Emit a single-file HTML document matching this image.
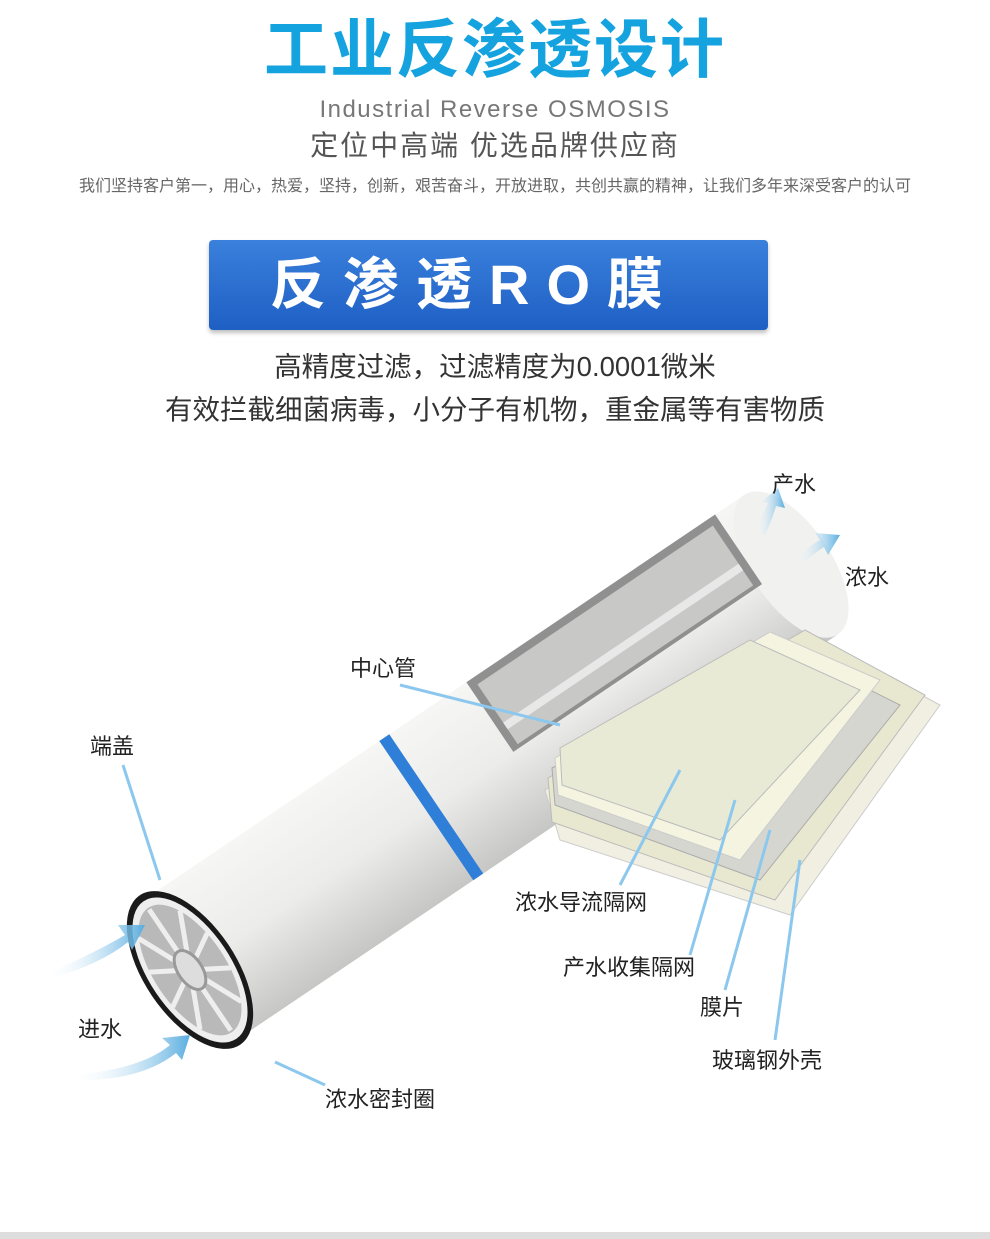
<!DOCTYPE html>
<html><head><meta charset="utf-8"><style>
body{margin:0;width:990px;height:1239px;background:#fff;overflow:hidden;position:relative;font-family:"Liberation Sans","Noto Sans CJK SC",sans-serif}
.t{position:absolute;left:0;width:990px;text-align:center;white-space:nowrap}
.l{position:absolute;font-size:22px;color:#222;white-space:nowrap}
</style></head><body>
<div class="t" style="top:10px;font-size:64px;font-weight:bold;color:#15a3e0;letter-spacing:2px;line-height:80px">工业反渗透设计</div>
<div class="t" style="top:95px;font-size:24px;color:#777;letter-spacing:1.5px;line-height:30px">Industrial Reverse OSMOSIS</div>
<div class="t" style="top:128px;font-size:28px;color:#555;letter-spacing:2px;line-height:36px">定位中高端 优选品牌供应商</div>
<div class="t" style="top:176px;font-size:16px;color:#666;line-height:22px">我们坚持客户第一，用心，热爱，坚持，创新，艰苦奋斗，开放进取，共创共赢的精神，让我们多年来深受客户的认可</div>
<div style="position:absolute;left:209px;top:240px;width:559px;height:90px;background:linear-gradient(#3a80dc,#1e5fc4);border-radius:4px;box-shadow:0 3px 4px rgba(0,0,0,.25)"></div>
<div class="t" style="top:250px;font-size:56px;font-weight:bold;color:#fff;letter-spacing:17px;line-height:70px;left:-20px">反渗透RO膜</div>
<div class="t" style="top:349px;font-size:27.5px;color:#333;line-height:36px">高精度过滤，过滤精度为0.0001微米</div>
<div class="t" style="top:392px;font-size:27.5px;color:#333;line-height:36px">有效拦截细菌病毒，小分子有机物，重金属等有害物质</div>

<svg style="position:absolute;left:0;top:0" width="990" height="1239">
<defs>
<linearGradient id="cy" x1="0" y1="0" x2="0" y2="1"><stop offset="0" stop-color="#f6f6f4"/><stop offset=".5" stop-color="#ececea"/><stop offset="1" stop-color="#c6c7c5"/></linearGradient>
<linearGradient id="ar" x1="0" y1="0" x2="1" y2="0"><stop offset="0" stop-color="#fff" stop-opacity="0"/><stop offset="1" stop-color="#5aaee0"/></linearGradient>
</defs>
<g transform="translate(190,970) rotate(-34)">
 <rect x="0" y="-84" width="725" height="168" fill="url(#cy)"/>
 <ellipse cx="725" cy="0" rx="40" ry="84" fill="#f1f1ef"/>
 <rect x="285" y="-84" width="12" height="168" fill="#2f7fd8"/>
 <path d="M390,-84 L690,-84 L690,0 L390,0 Z" fill="#8f908f"/>
 <path d="M398,-76 L682,-76 L682,-4 L398,-4 Z" fill="#c8c9c7"/>
 <rect x="398" y="-30" width="284" height="8" fill="#e8e8e8"/>
 <ellipse cx="0" cy="0" rx="46" ry="90" fill="#1a1a1a"/>
 <ellipse cx="0" cy="0" rx="41" ry="83" fill="#eee"/>
 <ellipse cx="0" cy="0" rx="36" ry="75" fill="#b8b9b8"/>
 <g stroke="#eee" stroke-width="5">
  <line x1="0" y1="0" x2="0" y2="-73"/><line x1="0" y1="0" x2="0" y2="73"/>
  <line x1="0" y1="0" x2="25" y2="-55"/><line x1="0" y1="0" x2="-25" y2="-55"/>
  <line x1="0" y1="0" x2="25" y2="55"/><line x1="0" y1="0" x2="-25" y2="55"/>
  <line x1="0" y1="0" x2="35" y2="-21"/><line x1="0" y1="0" x2="-35" y2="-21"/>
  <line x1="0" y1="0" x2="35" y2="21"/><line x1="0" y1="0" x2="-35" y2="21"/>
 </g>
 <ellipse cx="0" cy="0" rx="12" ry="22" fill="#ddd" stroke="#999" stroke-width="3"/>
</g>
<!-- sheets -->
<polygon points="545,790 820,640 940,705 790,915 560,840" fill="#f0efe2" stroke="#ccc"/>
<polygon points="548,778 805,630 925,695 775,900 552,822" fill="#e8e7d0" stroke="#bbb"/>
<polygon points="552,768 790,650 900,705 760,880 555,805" fill="#d6d6d0" stroke="#aaa"/>
<polygon points="555,758 770,632 880,680 740,860 558,795" fill="#f4f4e0" stroke="#ccc"/>
<polygon points="560,748 750,640 860,690 720,840 562,785" fill="#e9ead6" stroke="#bbb"/>
<!-- leader lines -->
<g stroke="#8cc8ee" stroke-width="3" fill="none">
<line x1="123" y1="765" x2="160" y2="880"/>
<line x1="400" y1="685" x2="560" y2="725"/>
<line x1="620" y1="885" x2="680" y2="770"/>
<line x1="690" y1="955" x2="735" y2="800"/>
<line x1="725" y1="990" x2="770" y2="830"/>
<line x1="775" y1="1040" x2="800" y2="860"/>
<line x1="275" y1="1062" x2="325" y2="1085"/>
</g>
<!-- arrows -->
<g fill="url(#ar)">
<path d="M45,975 Q100,950 125,935 L118,925 L145,925 L132,950 L128,942 Q100,965 45,980 Z"/>
<path d="M70,1075 Q140,1070 170,1045 L162,1038 L190,1035 L182,1060 L176,1053 Q140,1082 70,1080 Z"/>
<path d="M755,530 Q765,510 768,503 L760,503 L778,488 L785,508 L776,506 Q772,520 765,535 Z"/>
<path d="M795,560 Q810,545 820,540 L815,533 L840,535 L828,555 L824,547 Q812,555 800,565 Z"/>
</g>
</svg>
<div class="l" style="left:90px;top:729px">端盖</div>
<div class="l" style="left:350px;top:651px">中心管</div>
<div class="l" style="left:772px;top:467px">产水</div>
<div class="l" style="left:845px;top:560px">浓水</div>
<div class="l" style="left:78px;top:1012px">进水</div>
<div class="l" style="left:515px;top:885px">浓水导流隔网</div>
<div class="l" style="left:563px;top:950px">产水收集隔网</div>
<div class="l" style="left:700px;top:990px">膜片</div>
<div class="l" style="left:712px;top:1043px">玻璃钢外壳</div>
<div class="l" style="left:325px;top:1082px">浓水密封圈</div>
<div style="position:absolute;left:0;top:1232px;width:990px;height:7px;background:#ddd"></div>
</body></html>
